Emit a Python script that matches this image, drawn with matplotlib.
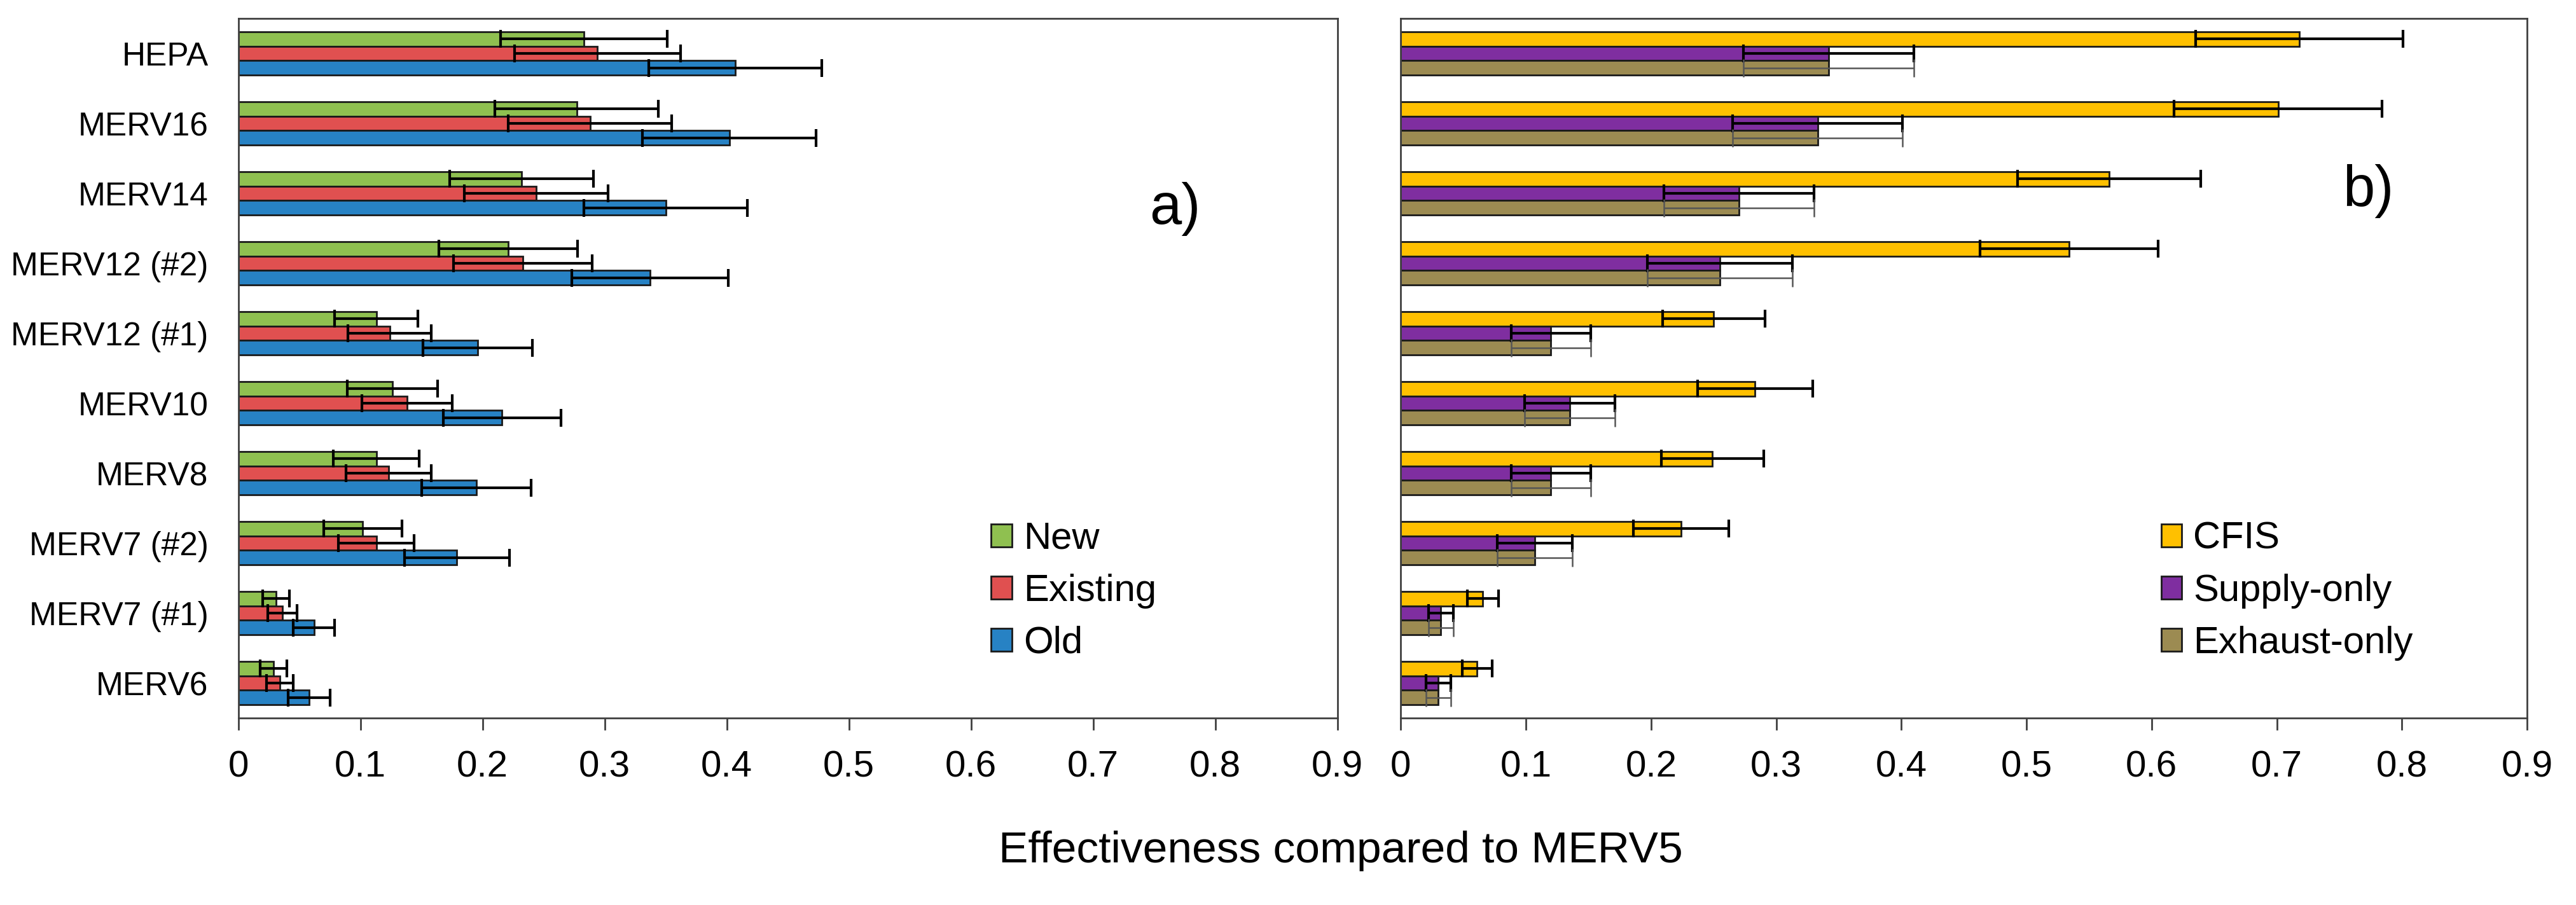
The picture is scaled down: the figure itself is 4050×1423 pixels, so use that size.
import numpy as np
import matplotlib
matplotlib.use('Agg')
import matplotlib.pyplot as plt

plt.rcParams['font.family'] = ['Liberation Sans', 'DejaVu Sans']

# filters, listed top to bottom
filters = ['HEPA', 'MERV16', 'MERV14', 'MERV12 (#2)', 'MERV12 (#1)',
           'MERV10', 'MERV8', 'MERV7 (#2)', 'MERV7 (#1)', 'MERV6']

# panel a) - house age
new_val = [0.283, 0.277, 0.232, 0.221, 0.113, 0.126, 0.113, 0.102, 0.031, 0.029]
new_err = [0.068, 0.067, 0.059, 0.057, 0.034, 0.037, 0.035, 0.032, 0.011, 0.011]
existing_val = [0.294, 0.288, 0.244, 0.233, 0.124, 0.138, 0.123, 0.113, 0.036, 0.034]
existing_err = [0.068, 0.067, 0.059, 0.057, 0.034, 0.037, 0.035, 0.031, 0.012, 0.011]
old_val = [0.407, 0.402, 0.350, 0.337, 0.196, 0.216, 0.195, 0.179, 0.062, 0.058]
old_err = [0.071, 0.071, 0.067, 0.064, 0.045, 0.048, 0.045, 0.043, 0.017, 0.017]

# panel b) - ventilation type
cfis_val = [0.718, 0.701, 0.566, 0.534, 0.250, 0.283, 0.249, 0.224, 0.0655, 0.061]
cfis_err = [0.083, 0.083, 0.073, 0.071, 0.041, 0.046, 0.041, 0.038, 0.0125, 0.012]
supply_val = [0.342, 0.333, 0.270, 0.255, 0.120, 0.135, 0.120, 0.107, 0.032, 0.030]
supply_err = [0.068, 0.068, 0.060, 0.058, 0.032, 0.036, 0.032, 0.030, 0.0098, 0.010]
exhaust_val = [0.342, 0.333, 0.270, 0.255, 0.120, 0.135, 0.120, 0.107, 0.032, 0.030]
exhaust_err = [0.068, 0.068, 0.060, 0.058, 0.032, 0.036, 0.032, 0.030, 0.0098, 0.010]

y = np.arange(len(filters))[::-1]
h = 0.205

fig = plt.figure(figsize=(40.5, 14.23), dpi=100)
ax1 = fig.add_axes([0.0925, 0.2066, 0.4267, 0.773])
ax2 = fig.add_axes([0.5438, 0.2066, 0.4372, 0.773])

ax_leg_x = {ax1: 0.685, ax2: 0.675}

def draw_panel(ax, series, labels, colors, ecolors, elw):
    for k, (vals, errs) in enumerate(series):
        ax.barh(y + h * (1 - k), vals, height=h, color=colors[k],
                edgecolor='#1a1a1a', linewidth=2, label=labels[k], zorder=2)
        ax.errorbar(vals, y + h * (1 - k), xerr=errs, fmt='none',
                    ecolor=ecolors[k], elinewidth=elw[k], capsize=10,
                    capthick=elw[k], zorder=3)
    ax.set_xlim(0, 0.9)
    ax.set_ylim(-0.5, 9.5)
    ax.set_xticks(np.arange(0, 0.91, 0.1))
    ax.set_xticklabels(['0'] + ['%.1f' % v for v in np.arange(0.1, 0.91, 0.1)])
    for s in ax.spines.values():
        s.set_color('#404040')
        s.set_linewidth(2)
    ax.tick_params(axis='x', length=14, width=2, color='#404040',
                   labelsize=42, pad=22)
    leg = ax.legend(loc='upper left', bbox_to_anchor=(ax_leg_x[ax], 0.281),
                    frameon=False, fontsize=43, handlelength=0.55,
                    handleheight=0.55, handletextpad=0.3, labelspacing=0.45,
                    borderpad=0, borderaxespad=0)
    for p in leg.get_patches():
        p.set_linewidth(2)

draw_panel(ax1, [(new_val, new_err), (existing_val, existing_err), (old_val, old_err)],
           ['New', 'Existing', 'Old'], ['#8fc050', '#e05050', '#2782c4'],
           ['black', 'black', 'black'], [3, 3, 3])
draw_panel(ax2, [(cfis_val, cfis_err), (supply_val, supply_err), (exhaust_val, exhaust_err)],
           ['CFIS', 'Supply-only', 'Exhaust-only'], ['#ffc000', '#7f2ea0', '#9c8b52'],
           ['black', 'black', '#555555'], [3, 3, 1.8])

ax1.set_yticks(y)
ax1.set_yticklabels(filters)
ax1.tick_params(axis='y', length=0, labelsize=37, pad=34)
ax2.set_yticks([])

ax1.text(0.852, 0.728, 'a)', transform=ax1.transAxes, fontsize=65,
         ha='center', va='center')
ax2.text(0.859, 0.753, 'b)', transform=ax2.transAxes, fontsize=65,
         ha='center', va='center')

fig.text(0.5205, 0.06, 'Effectiveness compared to MERV5', fontsize=50,
         ha='center', va='center')

fig.savefig('out.png', dpi=100)
